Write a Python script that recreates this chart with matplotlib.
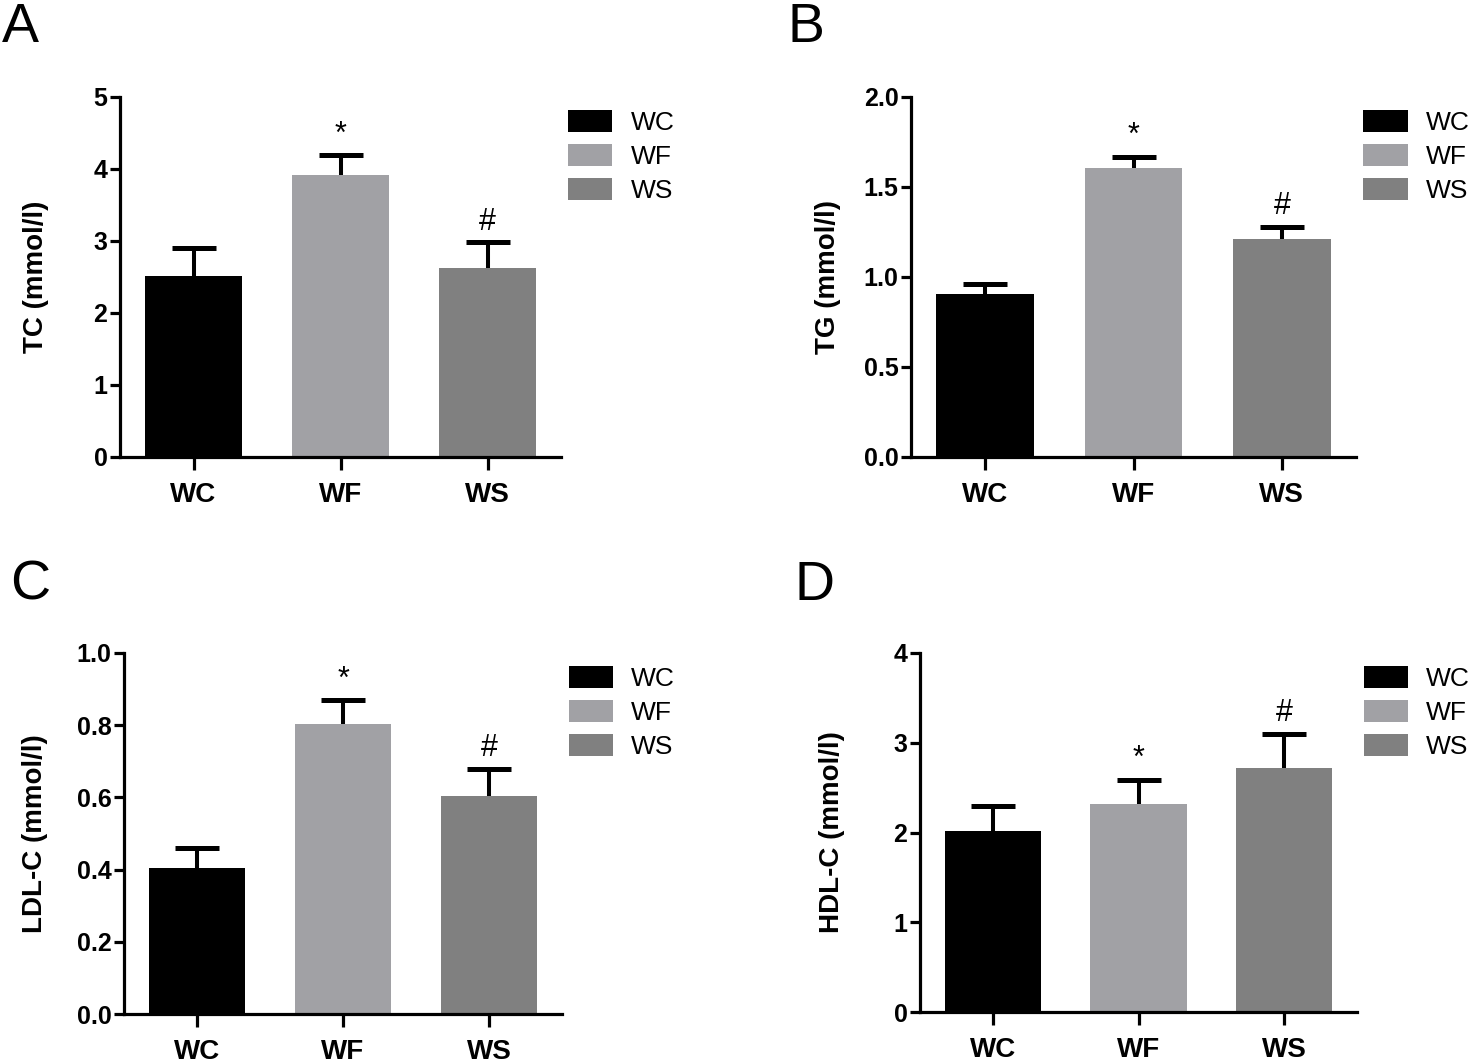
import matplotlib
matplotlib.use("Agg")
import matplotlib.pyplot as plt
import numpy as np

plt.rcParams['font.family'] = ['Liberation Sans', 'DejaVu Sans']

groups = ["WC", "WF", "WS"]
colors = ["#000000", "#a1a1a5", "#808080"]

tc_mean = [2.52, 3.92, 2.62]
tc_err = [0.38, 0.27, 0.36]

tg_mean = [0.905, 1.607, 1.21]
tg_err = [0.055, 0.06, 0.07]

ldl_mean = [0.404, 0.803, 0.604]
ldl_err = [0.056, 0.066, 0.075]

hdl_mean = [2.02, 2.32, 2.72]
hdl_err = [0.28, 0.27, 0.38]

marks = ["", "*", "#"]

panels = [
    # letter, ylabel, means, errs, ylim top, yticks, tick fmt
    ("A", "TC (mmol/l)", tc_mean, tc_err, 5, [0, 1, 2, 3, 4, 5], "{:.0f}"),
    ("B", "TG (mmol/l)", tg_mean, tg_err, 2.0, [0, 0.5, 1.0, 1.5, 2.0], "{:.1f}"),
    ("C", "LDL-C (mmol/l)", ldl_mean, ldl_err, 1.0, [0, 0.2, 0.4, 0.6, 0.8, 1.0], "{:.1f}"),
    ("D", "HDL-C (mmol/l)", hdl_mean, hdl_err, 4, [0, 1, 2, 3, 4], "{:.0f}"),
]

W, H = 1476, 1063
fig = plt.figure(figsize=(W / 100, H / 100), dpi=100)

# axes boxes in pixels: left, right, top, bottom
boxes = [(120, 561, 97, 457), (911, 1356, 97, 457),
         (124, 562, 653, 1014), (920, 1357, 653, 1012)]
letter_pos = [(2, 2), (788, 2), (10, 560), (795, 560)]
ylabel_x = [-0.16, -0.157, -0.174, -0.172]

for (letter, ylab, means, errs, ytop, yticks, fmt), (l, r, t, b), lp, ylx in zip(
        panels, boxes, letter_pos, ylabel_x):
    ax = fig.add_axes([l / W, 1 - b / H, (r - l) / W, (b - t) / H])
    x = np.arange(len(groups))
    bars = ax.bar(x, means, width=0.66, color=colors, label=groups, zorder=2)
    # symmetric bars drawn behind the columns, so only the upper half shows
    ax.errorbar(x, means, yerr=errs, fmt="none", ecolor="black",
                elinewidth=2.9, capsize=16, capthick=3.6, zorder=1)
    for xi, m, e, s in zip(x, means, errs, marks):
        if s:
            ax.annotate(s, (xi, m + e), xytext=(0, 4), textcoords="offset points",
                        ha="center", va="bottom", fontsize=22)
    ax.set_xlim(-0.5, 2.5)
    ax.set_ylim(0, ytop)
    ax.set_yticks(yticks)
    ax.set_yticklabels([fmt.format(v) for v in yticks], fontsize=18, fontweight="bold")
    ax.set_xticks(x)
    ax.set_xticklabels(groups, fontsize=20, fontweight="bold")
    for sp in ["top", "right"]:
        ax.spines[sp].set_visible(False)
    for sp in ["left", "bottom"]:
        ax.spines[sp].set_linewidth(2.3)
    ax.tick_params(axis="y", width=2.3, length=7, pad=2)
    ax.tick_params(axis="x", width=2.3, length=9, pad=9)
    ax.set_ylabel(ylab, fontsize=20, fontweight="bold")
    ax.yaxis.set_label_coords(ylx, 0.5)
    ax.legend(handles=bars, labels=groups, loc="upper left",
              bbox_to_anchor=(1.015, 0.963), frameon=False, fontsize=19,
              handlelength=1.7, handleheight=0.9, handletextpad=0.68,
              labelspacing=0.34, borderpad=0, borderaxespad=0)
    fig.text(lp[0] / W, 1 - lp[1] / H, letter, fontsize=40, ha="left", va="top")

fig.savefig("out.png", dpi=100)
